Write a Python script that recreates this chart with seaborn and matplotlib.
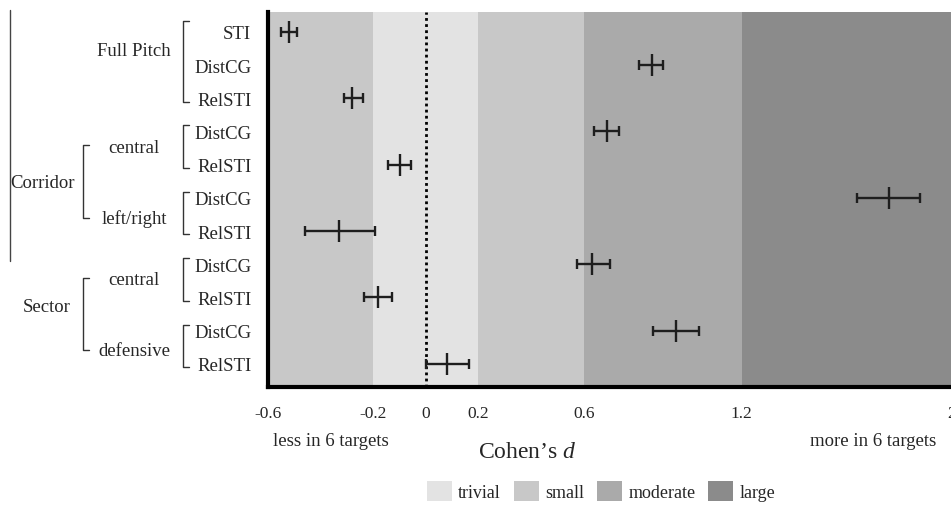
import numpy as np
import pandas as pd
import matplotlib
matplotlib.use("Agg")
import matplotlib.pyplot as plt
import matplotlib.transforms as mtransforms
from matplotlib.patches import Patch
import seaborn as sns

# Effect sizes (Cohen's d) with confidence limits, top to bottom
rows = ["STI", "DistCG", "RelSTI", "DistCG", "RelSTI", "DistCG", "RelSTI",
        "DistCG", "RelSTI", "DistCG", "RelSTI"]
d_mean = [-0.52, 0.86, -0.28, 0.69, -0.10, 1.76, -0.33, 0.63, -0.18, 0.95, 0.08]
d_low = [-0.55, 0.81, -0.31, 0.64, -0.145, 1.64, -0.46, 0.575, -0.235, 0.865, 0.0]
d_high = [-0.49, 0.90, -0.24, 0.735, -0.055, 1.88, -0.195, 0.70, -0.13, 1.04, 0.165]

# Threshold bands
band_edges = [-0.6, -0.2, 0.2, 0.6, 1.2, 2.0]
band_kind = ["small", "trivial", "small", "moderate", "large"]
band_colors = {"trivial": "#e3e3e3", "small": "#c8c8c8",
               "moderate": "#aaaaaa", "large": "#8b8b8b"}

xticks = [-0.6, -0.2, 0, 0.2, 0.6, 1.2, 2]
xtick_labels = ["-0.6", "-0.2", "0", "0.2", "0.6", "1.2", "2"]

# Grouping of the rows: (label, first row, last row)
sub_groups = [("Full Pitch", 0, 2), ("central", 3, 4), ("left/right", 5, 6),
              ("central", 7, 8), ("defensive", 9, 10)]
main_groups = [("Corridor", 1, 2), ("Sector", 3, 4)]  # indices into sub_groups

df = pd.DataFrame({"row": rows, "pos": np.arange(len(rows)),
                   "d": d_mean, "lo": d_low, "hi": d_high})

sns.set_theme(style="white")
plt.rcParams["font.family"] = ["Liberation Serif", "DejaVu Serif"]
plt.rcParams["mathtext.fontset"] = "custom"
plt.rcParams["mathtext.it"] = "Liberation Serif:italic"

W, H = 951, 510
fig = plt.figure(figsize=(W / 100, H / 100), dpi=100)
ax = fig.add_axes([268 / W, 1 - 388 / H, 684 / W, 375 / H])

# background bands
for x0, x1, kind in zip(band_edges[:-1], band_edges[1:], band_kind):
    ax.axvspan(x0, x1, color=band_colors[kind], lw=0, zorder=0)
ax.axvline(0, color="black", ls=(0, (1, 1.2)), lw=2, zorder=1)

# CIs and point estimates
ax.errorbar(df["d"], df["pos"], xerr=[df["d"] - df["lo"], df["hi"] - df["d"]],
            fmt="none", ecolor="#1e1e1e", elinewidth=1.7, capsize=3.8,
            capthick=1.7, zorder=3)
sns.scatterplot(data=df, x="d", y="pos", marker="|", s=260, color="#1e1e1e",
                linewidth=1.7, ax=ax, zorder=4, legend=False)

ax.set_xlim(band_edges[0], band_edges[-1])
ax.set_ylim(len(rows) - 0.3, -0.6)
ax.set_xticks(xticks)
ax.set_xticklabels(xtick_labels, fontsize=12.5)
ax.set_yticks(df["pos"])
ax.set_yticklabels(rows, fontsize=13.5)
ax.tick_params(axis="x", direction="out", length=8, width=2.2, color="black", pad=5)
ax.tick_params(axis="y", length=0, pad=12)
ax.set_xlabel("")
ax.set_ylabel("")
for side in ["top", "right"]:
    ax.spines[side].set_visible(False)
for side in ["left", "bottom"]:
    ax.spines[side].set_color("black")
    ax.spines[side].set_linewidth(3)

# bracket annotations on the left
tr = mtransforms.blended_transform_factory(ax.transAxes, ax.transData)
px = 1 / 684


def bracket(x, y0, y1, tick=6):
    ax.plot([x + tick * px, x, x, x + tick * px], [y0, y0, y1, y1],
            color="#333333", lw=1, transform=tr, clip_on=False)


sub_label_y = []
for i, (name, r0, r1) in enumerate(sub_groups):
    top = r0 - (0.33 if i == 0 else 0.18)
    bracket((183 - 268) * px, top, r1 + 0.1)
    # first sub-group of a pair sits high, second one low
    ly = r0 + 0.47 if i in (1, 3) else r0 + 0.6
    if i == 0:
        ly = r0 + 0.57
    sub_label_y.append(ly)
    ax.text((134 - 268) * px, ly, name, transform=tr, ha="center", va="center",
            fontsize=13.5)

for name, g0, g1 in main_groups:
    y0, y1 = sub_label_y[g0], sub_label_y[g1]
    bracket((83 - 268) * px, y0 - 0.05, y1)
    cx = 42 if name == "Corridor" else 47
    ax.text((cx - 268) * px, (y0 + y1) / 2 - (0.0 if name == "Corridor" else 0.25),
            name, transform=tr, ha="center", va="center", fontsize=13.5)

ax.plot([(10 - 268) * px] * 2, [-0.65, 6.9], color="#444444", lw=1,
        transform=tr, clip_on=False)

# axis annotations
fig.text(331 / W, 1 - 441 / H, "less in 6 targets", ha="center", va="center",
         fontsize=13.5)
fig.text(873 / W, 1 - 441 / H, "more in 6 targets", ha="center", va="center",
         fontsize=13.5)
fig.text(527 / W, 1 - 453 / H, "Cohen’s $d$", ha="center", va="center",
         fontsize=17)

handles = [Patch(facecolor=band_colors[k], edgecolor="none", label=k)
           for k in ["trivial", "small", "moderate", "large"]]
fig.legend(handles=handles, loc="center", bbox_to_anchor=(601 / W, 1 - 492 / H),
           ncol=4, frameon=False, fontsize=13, handlelength=1.4,
           handleheight=1.4, handletextpad=0.35, columnspacing=0.7)

fig.savefig("out.png", dpi=100)
